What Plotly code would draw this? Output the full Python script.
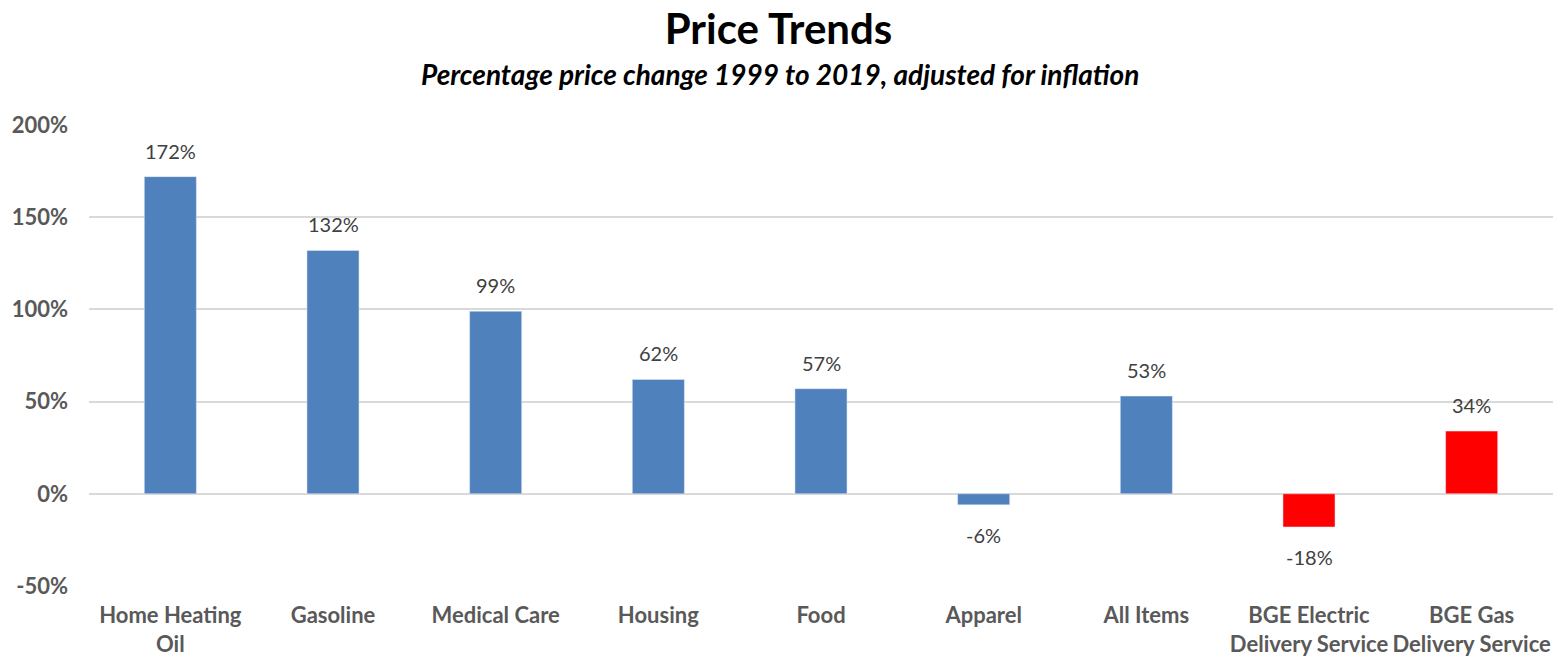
import plotly.graph_objects as go

categories = ["Home Heating<br>Oil", "Gasoline", "Medical Care", "Housing", "Food",
              "Apparel", "All Items", "BGE Electric<br>Delivery Service", "BGE Gas<br>Delivery Service"]
values = [172, 132, 99, 62, 57, -6, 53, -18, 34]
bar_colors = ["#4F81BD"] * 7 + ["#FF0000"] * 2
tick_vals = [-50, 0, 50, 100, 150, 200]
tick_text = ["-50%", "0%", "50%", "100%", "150%", "200%"]

FONT = "Lato, 'Open Sans', sans-serif"

W, H = 1557, 657
ML, MR, MT, MB = 89, 4, 125, 71
plot_w = W - ML - MR
plot_h = H - MT - MB

fig = go.Figure()
fig.add_trace(go.Bar(x=categories, y=values, marker_color=bar_colors, width=0.32,
                     hoverinfo="x+y"))

annotations = []
for c, v in zip(categories, values):
    annotations.append(dict(
        x=c, y=v, xref="x", yref="y", text=f"{v}%", showarrow=False,
        yanchor="bottom" if v >= 0 else "top",
        yshift=12 if v >= 0 else -16,
        font=dict(family=FONT, size=20, color="#404040")))

annotations.append(dict(
    x=(780 - ML) / plot_w, y=(H - MB - 74) / plot_h, xref="paper", yref="paper",
    text="<b><i>Percentage price change 1999 to 2019, adjusted for inflation</i></b>",
    showarrow=False, xanchor="center", yanchor="middle",
    font=dict(family=FONT, size=28, color="#000000")))

fig.update_layout(
    width=W, height=H,
    margin=dict(l=ML, r=MR, t=MT, b=MB, autoexpand=False),
    paper_bgcolor="white", plot_bgcolor="white",
    showlegend=False,
    title=dict(text="<b>Price Trends</b>", x=0.5, xref="container", xanchor="center",
               y=1 - 29 / H, yref="container", yanchor="middle",
               font=dict(family=FONT, size=42, color="#000000")),
    annotations=annotations,
    bargap=0.68,
)
fig.update_yaxes(range=[-50, 200], tickvals=tick_vals, ticktext=tick_text,
                 showgrid=True, gridcolor="#D9D9D9", gridwidth=1.5,
                 zeroline=True, zerolinecolor="#D9D9D9", zerolinewidth=1.5,
                 showline=False, ticks="", ticklabelstandoff=20,
                 tickfont=dict(family=FONT, size=22, color="#595959", weight="bold"))
fig.update_xaxes(showline=False, ticks="", showgrid=False, ticklabelstandoff=14,
                 tickfont=dict(family=FONT, size=22, color="#595959", weight="bold"))

fig.write_html("out.html", config={"displayModeBar": False},
               post_script="document.body.style.margin='0';")
